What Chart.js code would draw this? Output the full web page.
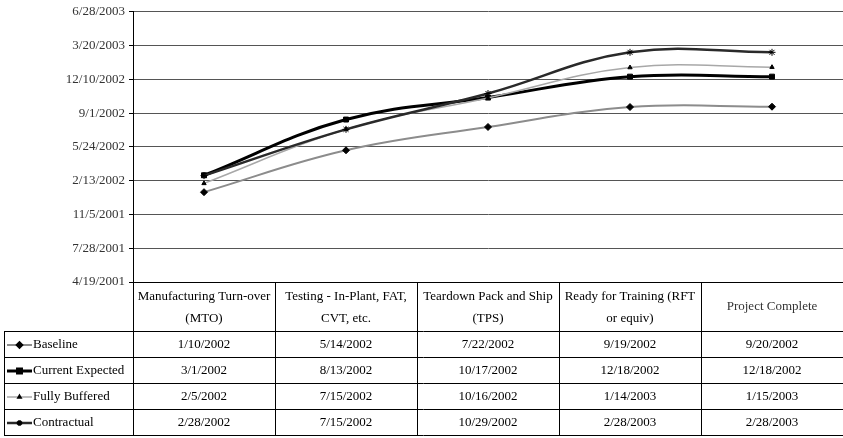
<!DOCTYPE html>
<html>
<head>
<meta charset="utf-8">
<script src="https://cdn.jsdelivr.net/npm/chart.js@4"></script>
<style>
  html, body { margin: 0; padding: 0; background: #fff; }
  #wrap { position: relative; width: 843px; height: 438px; }
</style>
</head>
<body>
<div id="wrap"><canvas id="chart1"></canvas></div>
<script>
// Milestones (x categories), split in lines like the table header
const milestones = [
  ['Manufacturing Turn-over', '(MTO)'],
  ['Testing - In-Plant, FAT,', 'CVT, etc.'],
  ['Teardown Pack and Ship', '(TPS)'],
  ['Ready for Training (RFT', 'or equiv)'],
  ['Project Complete']
];
const seriesNames = ['Baseline', 'Current Expected', 'Fully Buffered', 'Contractual'];
const baseline = ['1/10/2002', '5/14/2002', '7/22/2002', '9/19/2002', '9/20/2002'];
const currentExpected = ['3/1/2002', '8/13/2002', '10/17/2002', '12/18/2002', '12/18/2002'];
const fullyBuffered = ['2/5/2002', '7/15/2002', '10/16/2002', '1/14/2003', '1/15/2003'];
const contractual = ['2/28/2002', '7/15/2002', '10/29/2002', '2/28/2003', '2/28/2003'];
// y axis in Excel date serials: 4/19/2001 .. 6/28/2003, a tick every 100 days
const yMin = 37000, yMax = 37800, yStep = 100;

const FONT = 'Liberation Serif';
const EPOCH = Date.UTC(1899, 11, 30);

function toSerial(s) {
  const [m, d, y] = s.split('/').map(Number);
  return Math.round((Date.UTC(y, m - 1, d) - EPOCH) / 86400000);
}
function fromSerial(n) {
  const dt = new Date(EPOCH + n * 86400000);
  return (dt.getUTCMonth() + 1) + '/' + dt.getUTCDate() + '/' + dt.getUTCFullYear();
}

const allSeries = [baseline, currentExpected, fullyBuffered, contractual];

// draws the data table under the plot, lined up with the category scale
const tablePlugin = {
  id: 'dataTable',
  afterDraw(chart) {
    const ctx = chart.ctx, xs = chart.scales.x, area = chart.chartArea;
    const top = Math.round(area.bottom), headH = 50, rowH = 26, left = 4;
    const right = chart.width;
    const bottom = top + headH + rowH * allSeries.length;
    const half = (xs.getPixelForValue(1) - xs.getPixelForValue(0)) / 2;
    ctx.save();
    ctx.strokeStyle = '#000';
    ctx.lineWidth = 1;
    ctx.beginPath();
    // vertical lines
    const lx = Math.round(area.left) + 0.5;
    ctx.moveTo(lx, top); ctx.lineTo(lx, bottom);
    ctx.moveTo(left + 0.5, top + headH); ctx.lineTo(left + 0.5, bottom);
    for (let i = 0; i < milestones.length - 1; i++) {
      const x = Math.round(xs.getPixelForValue(i) + half) + 0.5;
      ctx.moveTo(x, top); ctx.lineTo(x, bottom);
    }
    // horizontal lines
    ctx.moveTo(area.left, top + 0.5); ctx.lineTo(right, top + 0.5);
    for (let r = 0; r <= allSeries.length; r++) {
      const y = top + headH + rowH * r - 0.5;
      ctx.moveTo(left, y); ctx.lineTo(right, y);
    }
    ctx.stroke();

    ctx.fillStyle = '#000';
    ctx.font = '13px "' + FONT + '"';
    ctx.textAlign = 'center';
    ctx.textBaseline = 'middle';
    milestones.forEach((lines, i) => {
      const cx = xs.getPixelForValue(i);
      if (lines.length === 1) {
        ctx.fillStyle = '#333';
        ctx.fillText(lines[0], cx, top + headH / 2);
        ctx.fillStyle = '#000';
      } else {
        ctx.fillText(lines[0], cx, top + 15);
        ctx.fillText(lines[1], cx, top + 37);
      }
    });
    allSeries.forEach((vals, r) => {
      const cy = top + headH + rowH * r + rowH / 2;
      vals.forEach((v, i) => {
        ctx.fillText(fromSerial(toSerial(v)), xs.getPixelForValue(i), cy);
      });
      // legend key
      const ds = chart.data.datasets[r];
      ctx.save();
      ctx.strokeStyle = ds.borderColor;
      ctx.lineWidth = ds.borderWidth;
      ctx.beginPath();
      ctx.moveTo(7, cy); ctx.lineTo(32, cy);
      ctx.stroke();
      ctx.fillStyle = '#000';
      ctx.strokeStyle = '#000';
      Chart.helpers.drawPoint(ctx, {
        pointStyle: ds.pointStyle, radius: ds.pointRadius * 0.8, rotation: 0, borderWidth: 1
      }, 19.5, cy);
      ctx.restore();
      ctx.textAlign = 'left';
      ctx.fillText(seriesNames[r], 33, cy);
      ctx.textAlign = 'center';
    });
    ctx.restore();
  }
};

Chart.defaults.font.family = FONT;

const ctx1 = document.getElementById('chart1').getContext('2d');
new Chart(ctx1, {
  type: 'line',
  data: {
    labels: milestones,
    datasets: [
      {
        label: seriesNames[0],
        data: baseline.map(toSerial),
        borderColor: '#8c8c8c',
        borderWidth: 2,
        pointStyle: 'rectRot',
        pointRadius: 3.5,
        pointBackgroundColor: '#000',
        pointBorderColor: '#000',
        pointBorderWidth: 1,
        order: 4
      },
      {
        label: seriesNames[1],
        data: currentExpected.map(toSerial),
        borderColor: '#000',
        borderWidth: 3,
        pointStyle: 'rect',
        pointRadius: 3.5,
        pointBackgroundColor: '#000',
        pointBorderColor: '#000',
        pointBorderWidth: 1,
        order: 3
      },
      {
        label: seriesNames[2],
        data: fullyBuffered.map(toSerial),
        borderColor: '#a8a8a8',
        borderWidth: 1.5,
        pointStyle: 'triangle',
        pointRadius: 2.5,
        pointBackgroundColor: '#000',
        pointBorderColor: '#000',
        pointBorderWidth: 1,
        order: 2
      },
      {
        label: seriesNames[3],
        data: contractual.map(toSerial),
        borderColor: '#2a2a2a',
        borderWidth: 2.5,
        pointStyle: 'star',
        pointRadius: 3.5,
        pointBackgroundColor: '#000',
        pointBorderColor: '#000',
        pointBorderWidth: 1,
        order: 1
      }
    ]
  },
  options: {
    responsive: true,
    maintainAspectRatio: false,
    animation: false,
    layout: { autoPadding: false, padding: { top: 10, right: 0, bottom: 156, left: 0 } },
    elements: { line: { tension: 0.4, fill: false } },
    plugins: { legend: { display: false }, tooltip: { enabled: false } },
    scales: {
      x: { display: false, offset: true },
      y: {
        min: yMin,
        max: yMax,
        ticks: {
          stepSize: yStep,
          color: '#333',
          padding: 4,
          font: { family: FONT, size: 13 },
          callback: (v) => fromSerial(v)
        },
        grid: { color: '#555', tickColor: '#000', tickLength: 4 },
        border: { color: '#000' },
        afterFit(scale) { scale.width = 133; }
      }
    }
  },
  plugins: [tablePlugin]
});
</script>
</body>
</html>
